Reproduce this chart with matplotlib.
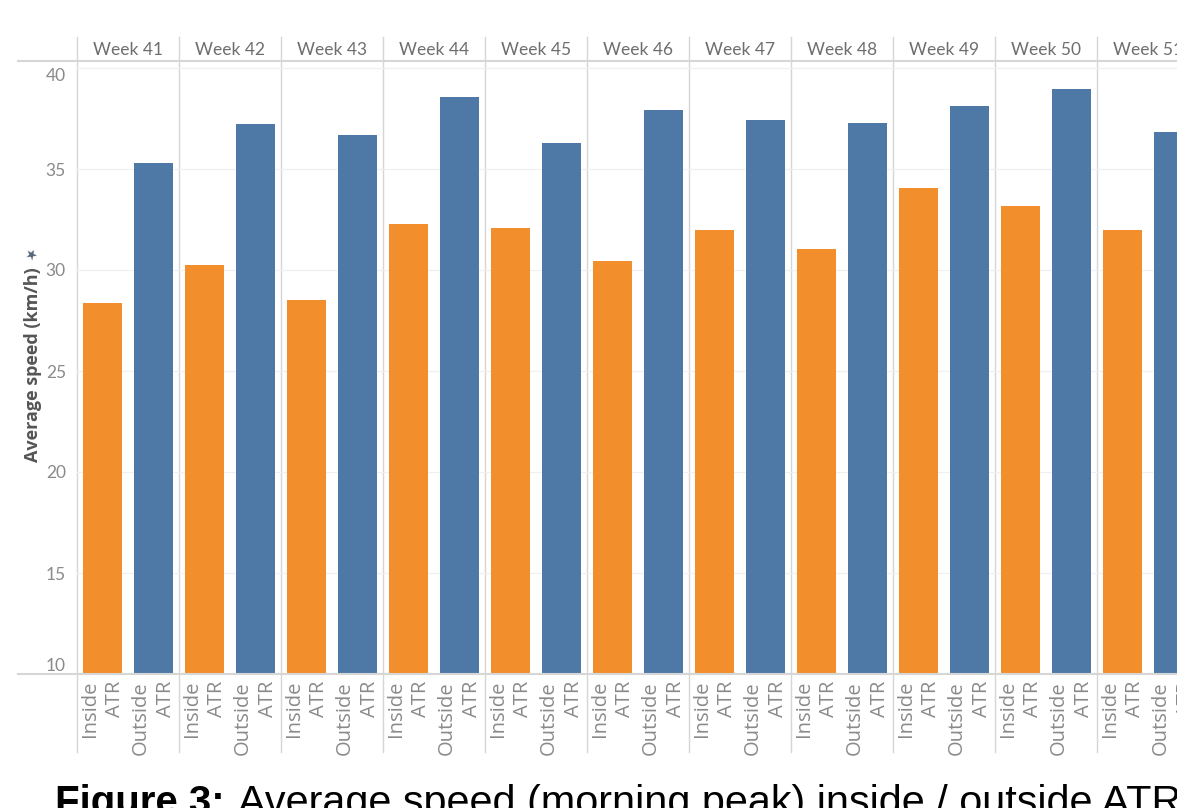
import numpy as np
import matplotlib
matplotlib.use("Agg")
from matplotlib import pyplot as plt
from matplotlib import transforms

weeks = ["Week 41", "Week 42", "Week 43", "Week 44", "Week 45", "Week 46",
         "Week 47", "Week 48", "Week 49", "Week 50", "Week 51"]
inside = [28.35, 30.25, 28.5, 32.3, 32.1, 30.45, 32.0, 31.05, 34.05, 33.15, 32.0]
outside = [35.3, 37.25, 36.7, 38.55, 36.3, 37.9, 37.45, 37.3, 38.1, 38.95, 36.85]
cat_labels = ["Inside\nATR", "Outside\nATR"]
yticks = [10, 15, 20, 25, 30, 35, 40]

orange = "#F28E2B"
blue = "#4E79A7"
grey_txt = "#8a8a8a"
line_c = "#d6d6d6"

W, H = 1177, 808
fig = plt.figure(figsize=(W / 100, H / 100), dpi=100)

def fx(px):
    return px / W

def fy(py):
    return (H - py) / H

# axes: left edge at x=77px, baseline y=674px, top just under header line
ax = fig.add_axes([fx(77), fy(674), fx(W) - fx(77), fy(62) - fy(674)])
ax.set_ylim(10, 10 + (674 - 62) / 20.2)
nw = len(weeks)
ax.set_xlim(-0.5, -0.5 + (W - 77) / 51)

xi = np.arange(nw) * 2
ax.bar(xi, np.array(inside) - 10, bottom=10, width=0.75, color=orange, zorder=3)
ax.bar(xi + 1, np.array(outside) - 10, bottom=10, width=0.75, color=blue, zorder=3)

for s in ax.spines.values():
    s.set_visible(False)

ax.set_yticks(yticks)
ax.set_yticklabels([str(v) for v in yticks], color=grey_txt, fontsize=12.5, family="Lato")
ax.tick_params(axis="y", length=0, pad=8)
tl = ax.get_yticklabels()
tl[0].set_va("bottom")
tl[-1].set_va("top")
ax.grid(axis="y", color="#f0f0f0", linewidth=0.9, zorder=0)

xt = np.arange(nw * 2)
ax.set_xticks(xt)
ax.set_xticklabels([cat_labels[i % 2] for i in xt], rotation=90, color=grey_txt,
                   fontsize=14.5, family="Open Sans", va="top", ha="center",
                   multialignment="right", linespacing=1.35)
ax.tick_params(axis="x", length=0, pad=5)

# panel separators and header
tr = transforms.blended_transform_factory(ax.transData, fig.transFigure)
for k in range(nw + 1):
    xs = 2 * k - 0.5
    ax.plot([xs, xs], [fy(37), fy(752)], transform=tr, color=line_c,
            linewidth=1, clip_on=False, zorder=1)
for k, wk in enumerate(weeks):
    ax.text(2 * k + 0.5, fy(50), wk, transform=tr, ha="center", va="center",
            color="#6e6e6e", fontsize=12.5, family="Lato", clip_on=False)

for py in (61, 674):
    fig.add_artist(plt.Line2D([fx(18), 1], [fy(py), fy(py)], color=line_c,
                              linewidth=1.5, transform=fig.transFigure))

fig.text(fx(33), fy(365), "Average speed (km/h)", rotation=90, ha="center",
         va="center", color="#555555", fontsize=13, fontweight="bold",
         family="Open Sans")
fig.text(fx(32), fy(255), "\u2605", rotation=45, ha="center", va="center",
         color="#556478", fontsize=10, family="DejaVu Sans")

# caption
fig.text(fx(55), fy(814), "Figure 3:", ha="left", va="baseline", fontsize=29,
         fontweight="bold", family="Liberation Sans", color="black")
fig.text(fx(238), fy(814), "Average speed (morning peak) inside / outside ATR",
         ha="left", va="baseline", fontsize=29.8, family="Liberation Sans",
         color="black")

plt.savefig("out.png", dpi=100)
